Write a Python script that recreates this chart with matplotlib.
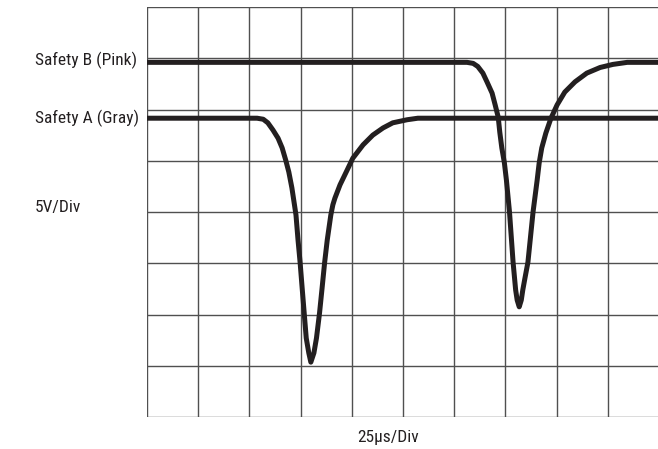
import matplotlib
matplotlib.use("Agg")
import matplotlib.pyplot as plt
from matplotlib import font_manager

# ---- data (x in divisions, y in divisions) ----
safety_a_x = [0.00, 2.15, 2.27, 2.36, 2.46, 2.56, 2.64, 2.71, 2.77, 2.83, 2.88, 2.91, 2.95,
              2.99, 3.03, 3.07, 3.11, 3.16, 3.20, 3.26, 3.31, 3.37, 3.42, 3.47, 3.52, 3.59,
              3.63, 3.67, 3.77, 3.91, 4.02, 4.22, 4.41, 4.61, 4.80, 5.08, 5.29, 10.00]
safety_a_y = [5.83, 5.83, 5.81, 5.74, 5.60, 5.44, 5.25, 5.01, 4.78, 4.47, 4.14, 3.94, 3.45,
              3.02, 2.52, 2.03, 1.54, 1.25, 1.07, 1.25, 1.54, 2.03, 2.52, 3.02, 3.45, 3.94,
              4.14, 4.27, 4.53, 4.82, 5.05, 5.31, 5.50, 5.64, 5.74, 5.80, 5.83, 5.83]

safety_b_x = [0.00, 6.25, 6.37, 6.46, 6.56, 6.64, 6.74, 6.80, 6.86, 6.89, 6.93, 6.98, 7.02,
              7.08, 7.15, 7.20, 7.23, 7.27, 7.31, 7.34, 7.38, 7.44, 7.54, 7.62, 7.66, 7.71,
              7.79, 7.89, 8.01, 8.16, 8.36, 8.59, 8.85, 9.10, 9.38, 10.00]
safety_b_y = [6.92, 6.92, 6.90, 6.84, 6.71, 6.54, 6.32, 6.09, 5.85, 5.56, 5.25, 4.96, 4.62,
              4.00, 3.02, 2.48, 2.28, 2.15, 2.28, 2.48, 2.70, 3.02, 4.00, 4.62, 4.96, 5.25,
              5.54, 5.83, 6.09, 6.34, 6.54, 6.71, 6.82, 6.88, 6.92, 6.92]

n_cols = 10
n_rows = 8
label_b = "Safety B (Pink)"
label_a = "Safety A (Gray)"
label_v = "5V/Div"
label_t = "25µs/Div"

# ---- font ----
avail = {f.name for f in font_manager.fontManager.ttflist}
narrow = [f for f in ["Roboto Condensed", "Liberation Sans Narrow", "Open Sans Condensed"] if f in avail]
plt.rcParams['font.family'] = narrow + ["DejaVu Sans"]
stretch = "normal" if narrow else "condensed"

W, H = 658, 449
fig = plt.figure(figsize=(W / 100, H / 100), dpi=100)
ax = fig.add_axes([147 / W, (H - 417) / H, 512 / W, 410 / H])
ax.set_xlim(0, n_cols)
ax.set_ylim(0, n_rows)

grid_c = "#505050"
for i in range(n_cols + 1):
    ax.axvline(i, color=grid_c, lw=1.0, zorder=1)
for j in range(n_rows + 1):
    ax.axhline(j, color=grid_c, lw=1.0, zorder=1)
for s in ax.spines.values():
    s.set_visible(False)
ax.set_xticks([])
ax.set_yticks([])

trace_c = "#231f20"
ax.plot(safety_b_x, safety_b_y, color=trace_c, lw=3.6, solid_joinstyle="round",
        solid_capstyle="butt", zorder=3)
ax.plot(safety_a_x, safety_a_y, color=trace_c, lw=3.6, solid_joinstyle="round",
        solid_capstyle="butt", zorder=3)

fs = 12.5
tc = "#231f20"
kw = dict(fontsize=fs, color=tc, fontstretch=stretch, va="baseline")
fig.text(35 / W, 1 - 65 / H, label_b, ha="left", **kw)
fig.text(35 / W, 1 - 123 / H, label_a, ha="left", **kw)
fig.text(35 / W, 1 - 212 / H, label_v, ha="left", **kw)
fig.text(388 / W, 1 - 442 / H, label_t, ha="center", **kw)

fig.savefig("out.png", dpi=100)
